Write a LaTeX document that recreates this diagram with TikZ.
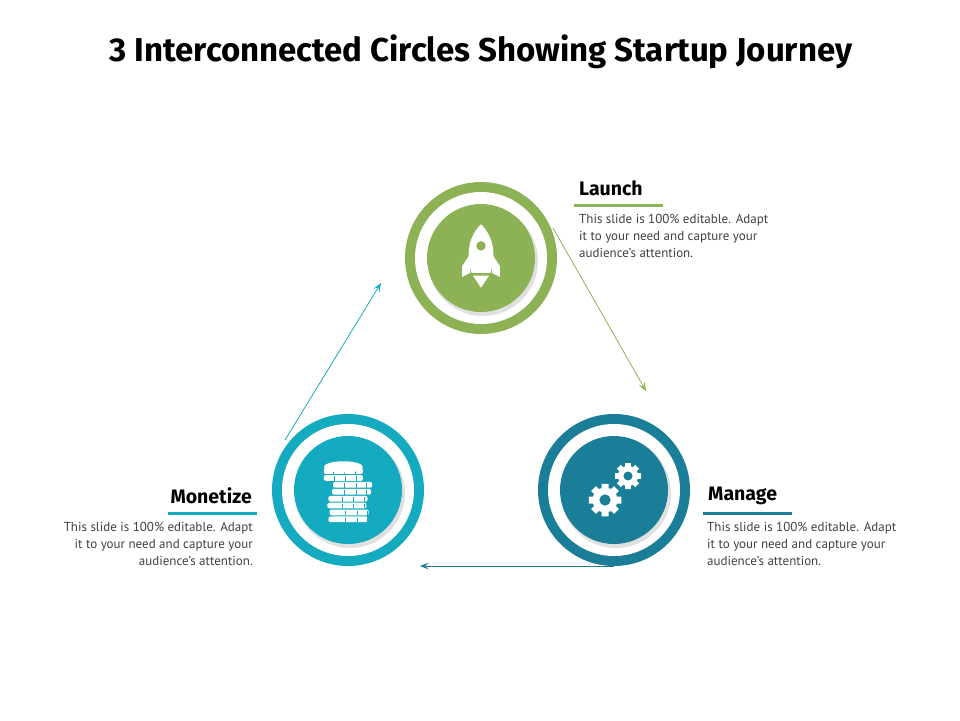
\documentclass[tikz,border=0pt]{standalone}
\usepackage{fontspec}
\setmainfont{PT Sans}
\newfontfamily\headf{Fira Sans}
\usetikzlibrary{arrows.meta,calc}
\definecolor{cgreen}{HTML}{8DB255}
\definecolor{cteal}{HTML}{14AABF}
\definecolor{cblue}{HTML}{1A7E98}
\tikzset{
 outer/.style={circle,minimum size=152pt,inner sep=0},
 body/.style={font=\fontsize{13}{17}\selectfont,text=black!75,inner sep=0},
 head/.style={font=\headf\fontsize{19.5}{22}\selectfont\bfseries,inner sep=0},
 conn/.style={-{Stealth[length=9pt,width=7pt,inset=4pt]},line width=0.8pt}
}
\newcommand{\ringc}[2]{%
 \fill[#2] (#1) circle (76);
 \fill[white] (#1) circle (66);
 \fill[black!12] ($(#1)+(2,3)$) circle (55);
 \fill[#2] (#1) circle (54);}
\newcommand{\gear}[2]{%
 \begin{scope}[shift={(#1)}]
 \fill[white] \foreach \a in {0,45,...,315}{[rotate=\a] (-2.8*#2/10,-13*#2/10) rectangle (2.8*#2/10,13*#2/10)};
 \fill[white] (0,0) circle (10*#2/10);
 \fill[cblue] (0,0) circle (4.5*#2/10);
 \end{scope}}
\begin{document}
\begin{tikzpicture}[x=1pt,y=-1pt]
\useasboundingbox (0,0) rectangle (960,720);
\node[font=\headf\fontsize{33}{36}\selectfont\bfseries] (title) at (481,52) {3 Interconnected Circles Showing Startup Journey};
\coordinate (L) at (481,258);
\coordinate (M) at (348,490);
\coordinate (G) at (614,490);
\ringc{L}{cgreen}
\ringc{M}{cteal}
\ringc{G}{cblue}
\node[outer] (nL) at (L) {};
\node[outer] (nM) at (M) {};
\node[outer] (nG) at (G) {};
% rocket
\begin{scope}[shift={(L)},scale=1.35]
\fill[white] (0,-25) .. controls (10,-15) and (11,-2) .. (7,11) -- (-7,11) .. controls (-11,-2) and (-10,-15) .. (0,-25) -- cycle;
\fill[white] (-8,-3) -- (-14,6) -- (-14,14) -- (-8,11) -- cycle;
\fill[white] (8,-3) -- (14,6) -- (14,14) -- (8,11) -- cycle;
\fill[white] (-6,13) -- (6,13) -- (0,22) -- cycle;
\fill[cgreen] (0,-9) circle (3.5);
\end{scope}
% gears
\gear{$(G)+(14,-14)$}{10}
\gear{$(G)+(-9,10)$}{12.5}
% coins
\begin{scope}[shift={(M)},scale=1.15]
\foreach \i/\dx in {0/-4,1/-4,2/4,3/3,4/0,5/-1,6/1,7/0}{
 \fill[white,rounded corners=2] (\dx-17,-19+6*\i) rectangle (\dx+17,-19+6*\i+5);
 \foreach \t in {-9,1,10}{\draw[cteal,line width=0.7pt] (\dx+\t+\i,-19+6*\i+1) -- (\dx+\t+\i,-19+6*\i+5);}
}
\fill[white] (-4,-20) ellipse (17 and 5);
\end{scope}
% connectors
\coordinate (a1) at (553,228); \coordinate (a2) at (646,391);
\coordinate (b1) at (614,566); \coordinate (b2) at (420,566);
\coordinate (c1) at (285,440); \coordinate (c2) at (381,283);
\draw[conn,cgreen] (a1) -- (a2);
\draw[conn,cblue] (b1) -- (b2);
\draw[conn,cteal] (c1) -- (c2);
% labels
\node[head,anchor=west] (hL) at (579,188) {Launch};
\draw[cgreen,line width=3pt] (574,205) -- (663,205);
\node[body,anchor=north west,align=left] (tL) at (579,214) {This slide is 100\% editable. Adapt\\it to your need and capture your\\audience’s attention.};
\node[head,anchor=west] (hG) at (708,496) {Manage};
\draw[cblue,line width=3pt] (703,513) -- (792,513);
\node[body,anchor=north west,align=left] (tG) at (707,522) {This slide is 100\% editable. Adapt\\it to your need and capture your\\audience’s attention.};
\node[head,anchor=east] (hM) at (252,496) {Monetize};
\draw[cteal,line width=3pt] (168,513) -- (257,513);
\node[body,anchor=north east,align=right] (tM) at (253,522) {This slide is 100\% editable. Adapt\\it to your need and capture your\\audience’s attention.};
\end{tikzpicture}
\end{document}
